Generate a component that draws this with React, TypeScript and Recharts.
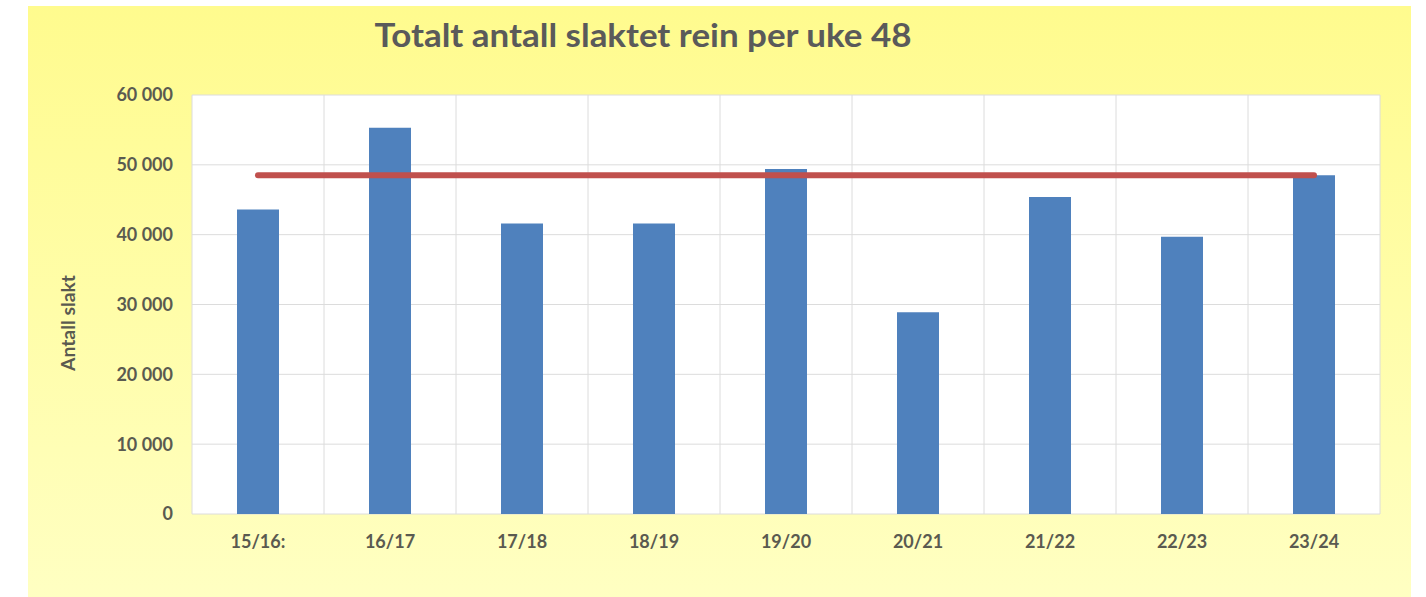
import { ComposedChart, Bar, Line, XAxis, YAxis, CartesianGrid } from "recharts";

const seasons = ["15/16:", "16/17", "17/18", "18/19", "19/20", "20/21", "21/22", "22/23", "23/24"];
const slaktet = [43600, 55300, 41600, 41600, 49400, 28900, 45400, 39700, 48500];
const referanse = [48500, 48500, 48500, 48500, 48500, 48500, 48500, 48500, 48500];
const yTicks = [0, 10000, 20000, 30000, 40000, 50000, 60000];

const data = seasons.map((s, i) => ({ season: s, antall: slaktet[i], nivaa: referanse[i] }));

const fmt = (v: number) => (v === 0 ? "0" : `${Math.floor(v / 1000)} ${String(v % 1000).padStart(3, "0")}`);

const tickStyle = { fontFamily: "Lato", fontWeight: 700, fontSize: 18, fill: "#5a5a50" };

export default function App() {
  return (
    <div style={{ position: "absolute", left: 0, top: 0, width: 1426, height: 597, background: "#fff" }}>
      <div
        style={{
          position: "absolute",
          left: 28,
          top: 6,
          width: 1383,
          height: 591,
          background: "linear-gradient(#fffb8e, #ffffc2)",
        }}
      >
        <ComposedChart width={1383} height={591} data={data} margin={{ top: 89, right: 31, bottom: 0, left: 0 }}>
          <CartesianGrid
            fill="#ffffff"
            stroke="#dcdcdc"
            verticalCoordinatesGenerator={({ offset }: any) =>
              seasons.map((_, i) => offset.left + (i * offset.width) / seasons.length).concat(offset.left + offset.width)
            }
          />
          <XAxis
            dataKey="season"
            height={83}
            tickLine={false}
            axisLine={false}
            tickMargin={15}
            tick={tickStyle}
          />
          <YAxis
            width={164}
            domain={[0, 60000]}
            ticks={yTicks}
            tickFormatter={fmt}
            tickLine={false}
            axisLine={false}
            tickMargin={13}
            tick={tickStyle}
          />
          <Bar dataKey="antall" fill="#4f81bd" barSize={42} isAnimationActive={false} />
          <Line
            dataKey="nivaa"
            stroke="#c0504d"
            strokeWidth={6}
            strokeLinecap="round"
            dot={false}
            activeDot={false}
            isAnimationActive={false}
          />
        </ComposedChart>
        <svg style={{ position: "absolute", left: 0, top: 0 }} width={1383} height={591} pointerEvents="none">
          <text
            x={615}
            y={41}
            textAnchor="middle"
            fontFamily="Lato"
            fontWeight={700}
            fontSize={33}
            fill="#5a5a5a"
            textLength={537}
            lengthAdjust="spacingAndGlyphs"
          >
            Totalt antall slaktet rein per uke 48
          </text>
          <text
            x={0}
            y={0}
            transform="translate(47 317) rotate(-90)"
            textAnchor="middle"
            fontFamily="Lato"
            fontWeight={700}
            fontSize={19}
            fill="#5a5a50"
            textLength={96}
            lengthAdjust="spacingAndGlyphs"
          >
            Antall slakt
          </text>
        </svg>
      </div>
    </div>
  );
}
